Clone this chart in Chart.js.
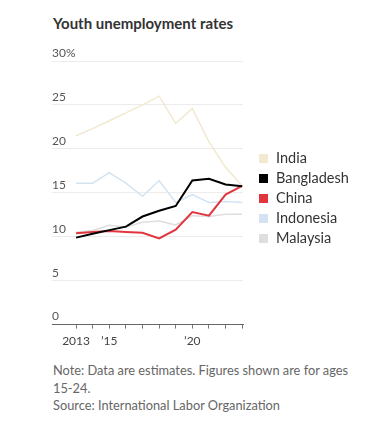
<!DOCTYPE html>
<html>
<head>
<meta charset="utf-8">
<script src="https://cdn.jsdelivr.net/npm/chart.js@4.4.1/dist/chart.umd.min.js"></script>
<style>
  html, body { margin: 0; padding: 0; background: #fff; }
  body { width: 380px; height: 430px; position: relative; overflow: hidden; font-family: Lato, "Noto Sans", sans-serif; }
  #title { position: absolute; left: 53px; top: 14px; font-size: 15px; font-weight: bold; color: #333; white-space: nowrap; }
  #wrap { position: absolute; left: 0; top: 0; width: 380px; height: 353px; }
  #legend { position: absolute; left: 259px; top: 149px; font-size: 14.5px; color: #333; }
  .row { height: 20px; line-height: 18px; white-space: nowrap; }
  .sw { display: inline-block; width: 9px; height: 9px; margin-right: 8px; vertical-align: 0px; }
  #notes { position: absolute; left: 53px; top: 362px; width: 320px; font-size: 12.8px; line-height: 17.5px; color: #666; }
</style>
</head>
<body>
<div id="title">Youth unemployment rates</div>
<div id="wrap"><canvas id="c"></canvas></div>
<div id="legend"></div>
<div id="notes">Note: Data are estimates. Figures shown are for ages<br>15-24.<br>Source: International Labor Organization</div>
<script>
const years = [2013, 2014, 2015, 2016, 2017, 2018, 2019, 2020, 2021, 2022, 2023];
const india      = [21.5, 22.3, 23.2, 24.1, 25.0, 26.0, 22.9, 24.6, 20.8, 17.9, 15.8];
const bangladesh = [9.9, 10.35, 10.75, 11.15, 12.3, 12.95, 13.5, 16.4, 16.6, 15.95, 15.75];
const china      = [10.4, 10.55, 10.65, 10.55, 10.45, 9.8, 10.8, 12.8, 12.4, 14.8, 15.8];
const indonesia  = [16.1, 16.1, 17.3, 16.1, 14.6, 16.4, 13.9, 14.8, 13.9, 14.0, 13.9];
const malaysia   = [10.5, 10.7, 11.3, 11.1, 11.65, 11.8, 11.35, 12.4, 12.3, 12.55, 12.55];
const yTicks = [0, 5, 10, 15, 20, 25, 30];
const xLabels = {2013: '2013', 2015: "\u201915", 2020: "\u201920"};

const series = [
  {name: 'India', data: india, color: '#f3e8d0', width: 1.5, order: 4},
  {name: 'Bangladesh', data: bangladesh, color: '#000000', width: 2, order: 0},
  {name: 'China', data: china, color: '#e1363e', width: 2, order: 1},
  {name: 'Indonesia', data: indonesia, color: '#d4e3f2', width: 1.5, order: 2},
  {name: 'Malaysia', data: malaysia, color: '#dedede', width: 1.5, order: 3}
];

const legend = document.getElementById('legend');
series.forEach(s => {
  const r = document.createElement('div');
  r.className = 'row';
  r.innerHTML = '<span class="sw" style="background:' + s.color + '"></span>' + s.name;
  legend.appendChild(r);
});

new Chart(document.getElementById('c'), {
  type: 'line',
  data: {
    datasets: series.map(s => ({
      label: s.name,
      data: years.map((y, i) => ({x: y, y: s.data[i]})),
      borderColor: s.color,
      backgroundColor: s.color,
      borderWidth: s.width,
      pointRadius: 0,
      tension: 0,
      order: s.order
    }))
  },
  options: {
    responsive: true,
    maintainAspectRatio: false,
    animation: false,
    layout: { padding: { left: 52, right: 137, top: 61, bottom: 0 } },
    plugins: { legend: { display: false }, tooltip: { enabled: false } },
    scales: {
      x: {
        type: 'linear',
        min: 2011.55,
        max: 2023.05,
        afterBuildTicks: axis => { axis.ticks = years.map(v => ({value: v})); },
        grid: { drawOnChartArea: false, drawTicks: true, tickLength: 4, color: '#777' },
        border: { display: true, color: '#666', width: 1 },
        ticks: {
          autoSkip: false,
          maxRotation: 0,
          padding: 5,
          color: '#444',
          font: { family: 'Lato, "Noto Sans", sans-serif', size: 12 },
          callback: v => xLabels[v] || ''
        }
      },
      y: {
        min: 0,
        max: 30,
        afterBuildTicks: axis => { axis.ticks = yTicks.map(v => ({value: v})); },
        grid: { drawTicks: false, color: '#ececec', lineWidth: 1 },
        border: { display: false },
        ticks: {
          mirror: true,
          padding: 0,
          labelOffset: -8,
          color: '#555',
          font: { family: 'Lato, "Noto Sans", sans-serif', size: 12 },
          callback: v => v === 30 ? '30%' : String(v)
        }
      }
    }
  }
});
</script>
</body>
</html>
